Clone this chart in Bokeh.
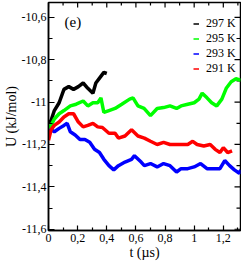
import math
from bokeh.plotting import figure
from bokeh.models import (FixedTicker, Range1d, Label, Legend, LegendItem)
from bokeh.embed import file_html
from bokeh.resources import INLINE

# ---- data ----
t_297 = [0, 0.018, 0.04, 0.073, 0.106, 0.139, 0.172, 0.205, 0.238, 0.27, 0.305, 0.325, 0.358, 0.38, 0.40]
u_297 = [-11.1, -11.086, -11.04, -11.003, -10.94, -10.927, -10.94, -10.927, -10.91, -10.935, -10.958, -10.91, -10.88, -10.86, -10.865]

t_295 = [0, 0.018, 0.04, 0.073, 0.106, 0.15, 0.19, 0.238, 0.27, 0.305, 0.338, 0.36, 0.38, 0.415, 0.457, 0.503,
         0.557, 0.58, 0.614, 0.656, 0.70, 0.746, 0.79, 0.834, 0.879, 0.91, 0.956, 1.0, 1.033, 1.055, 1.088, 1.12,
         1.155, 1.19, 1.22, 1.254, 1.287, 1.32]
u_295 = [-11.12, -11.11, -11.08, -11.055, -11.04, -11.018, -11.01, -10.995, -11.018, -11.003, -11.003, -10.98,
         -11.049, -11.04, -11.03, -11.01, -10.986, -10.98, -11.018, -11.03, -11.064, -11.03, -11.026, -11.018,
         -11.03, -11.018, -11.01, -11.003, -10.986, -10.958, -10.98, -11.003, -11.018, -10.986, -10.935, -10.904,
         -10.89, -10.897]

t_293 = [0, 0.018, 0.04, 0.073, 0.106, 0.128, 0.15, 0.183, 0.216, 0.25, 0.283, 0.316, 0.35, 0.38, 0.415, 0.448,
         0.48, 0.525, 0.57, 0.59, 0.636, 0.658, 0.70, 0.746, 0.79, 0.834, 0.879, 0.91, 0.956, 1.0, 1.044, 1.088,
         1.132, 1.177, 1.21, 1.243, 1.276, 1.31, 1.32]
u_293 = [-11.14, -11.13, -11.14, -11.124, -11.11, -11.1, -11.14, -11.155, -11.177, -11.177, -11.19, -11.223,
         -11.238, -11.27, -11.3, -11.32, -11.3, -11.283, -11.27, -11.253, -11.283, -11.3, -11.29, -11.306, -11.29,
         -11.3, -11.33, -11.314, -11.314, -11.306, -11.29, -11.314, -11.314, -11.314, -11.276, -11.3, -11.32,
         -11.336, -11.32]

t_291 = [0, 0.018, 0.04, 0.073, 0.106, 0.139, 0.172, 0.205, 0.238, 0.27, 0.305, 0.338, 0.37, 0.415, 0.457, 0.48,
         0.525, 0.57, 0.614, 0.658, 0.70, 0.746, 0.79, 0.834, 0.879, 0.91, 0.956, 0.99, 1.02, 1.066, 1.11, 1.144,
         1.177, 1.2, 1.23, 1.26]
u_291 = [-11.18, -11.13, -11.11, -11.094, -11.07, -11.055, -11.055, -11.094, -11.117, -11.11, -11.1, -11.117,
         -11.12, -11.147, -11.147, -11.17, -11.16, -11.13, -11.16, -11.17, -11.185, -11.2, -11.19, -11.2, -11.2,
         -11.2, -11.2, -11.185, -11.2, -11.207, -11.2, -11.223, -11.238, -11.215, -11.238, -11.23]

series_labels = ["297 K", "295 K", "293 K", "291 K"]
series_colors = ["black", "#00ff00", "#0000ff", "#ff0000"]

x_ticks = [0, 0.2, 0.4, 0.6, 0.8, 1.0, 1.2]
x_tick_labels = ["0", "0,2", "0,4", "0,6", "0,8", "1", "1,2"]
x_minor = [0.1, 0.3, 0.5, 0.7, 0.9, 1.1, 1.3]
y_ticks = [-11.6, -11.4, -11.2, -11.0, -10.8, -10.6]
y_tick_labels = ["-11,6", "-11,4", "-11,2", "-11", "-10,8", "-10,6"]
y_minor = [-11.5, -11.3, -11.1, -10.9, -10.7]

X0, X1 = 0.0, 1.318
Y0, Y1 = -11.606, -10.53

FONT = "Liberation Serif"

p = figure(width=241, height=262, output_backend="svg", toolbar_location=None,
           x_range=Range1d(X0, X1), y_range=Range1d(Y0, Y1),
           min_border_left=43, min_border_right=1, min_border_top=2, min_border_bottom=26)
p.grid.visible = False
p.outline_line_color = "black"
p.outline_line_width = 1.5
p.background_fill_color = "white"
p.border_fill_color = "white"

xa = p.xaxis[0]
xa.ticker = FixedTicker(ticks=x_ticks, minor_ticks=x_minor)
xa.major_label_overrides = {t: l for t, l in zip(x_ticks, x_tick_labels)}
xa.major_tick_in = 5
xa.minor_tick_in = 3
xa.major_label_standoff = 3
xa.axis_label = "t (\u00b5s)"
xa.axis_label_standoff = 0

ya = p.yaxis[0]
ya.ticker = FixedTicker(ticks=y_ticks, minor_ticks=y_minor)
ya.major_label_overrides = {t: l for t, l in zip(y_ticks, y_tick_labels)}
ya.major_tick_in = 6
ya.minor_tick_in = 4
ya.major_label_standoff = 2
ya.axis_label = "U (kJ/mol)"
ya.axis_label_standoff = 0

for ax in (xa, ya):
    ax.major_tick_out = 0
    ax.minor_tick_out = 0
    ax.axis_line_color = "black"
    ax.axis_line_width = 1.5
    ax.major_tick_line_width = 1.2
    ax.minor_tick_line_width = 1.2
    ax.major_label_text_font = FONT
    ax.major_label_text_font_size = "12px"
    ax.major_label_text_color = "black"
    ax.axis_label_text_font = FONT
    ax.axis_label_text_font_size = "14px"
    ax.axis_label_text_font_style = "normal"
    ax.axis_label_text_color = "black"

# mirrored ticks on the top and right frame edges
tick_style = dict(line_color="black", line_width=1.2, length_units="screen")
p.ray(x=x_ticks, y=[Y1] * len(x_ticks), length=5, angle=-math.pi / 2, **tick_style)
p.ray(x=x_minor, y=[Y1] * len(x_minor), length=3, angle=-math.pi / 2, **tick_style)
p.ray(x=[X1] * len(y_ticks), y=y_ticks, length=6, angle=math.pi, **tick_style)
p.ray(x=[X1] * len(y_minor), y=y_minor, length=4, angle=math.pi, **tick_style)

for t, u, c in zip([t_297, t_295, t_293, t_291], [u_297, u_295, u_293, u_291], series_colors):
    p.line(t, u, line_color=c, line_width=3.5)

# thin legend keys (renderers holding a single missing point, drawn only in the legend)
nan = float("nan")
legend_keys = [p.line(x=[nan], y=[nan], line_color=c, line_width=1.5) for c in series_colors]

legend = Legend(items=[LegendItem(label=l, renderers=[r]) for l, r in zip(series_labels, legend_keys)],
                location=(145, 154), orientation="vertical",
                background_fill_alpha=0, border_line_color=None,
                padding=0, margin=0, spacing=0,
                glyph_width=6, glyph_height=11, label_height=11, label_standoff=7,
                label_text_font=FONT, label_text_font_size="12px", label_text_color="black")
p.add_layout(legend)

# panel tag
p.add_layout(Label(x=0.167, y=-10.623, text="(e)", text_font=FONT, text_font_size="15px",
                   text_align="center", text_baseline="middle", text_color="black"))

open("out.html", "w").write(file_html(p, INLINE))
